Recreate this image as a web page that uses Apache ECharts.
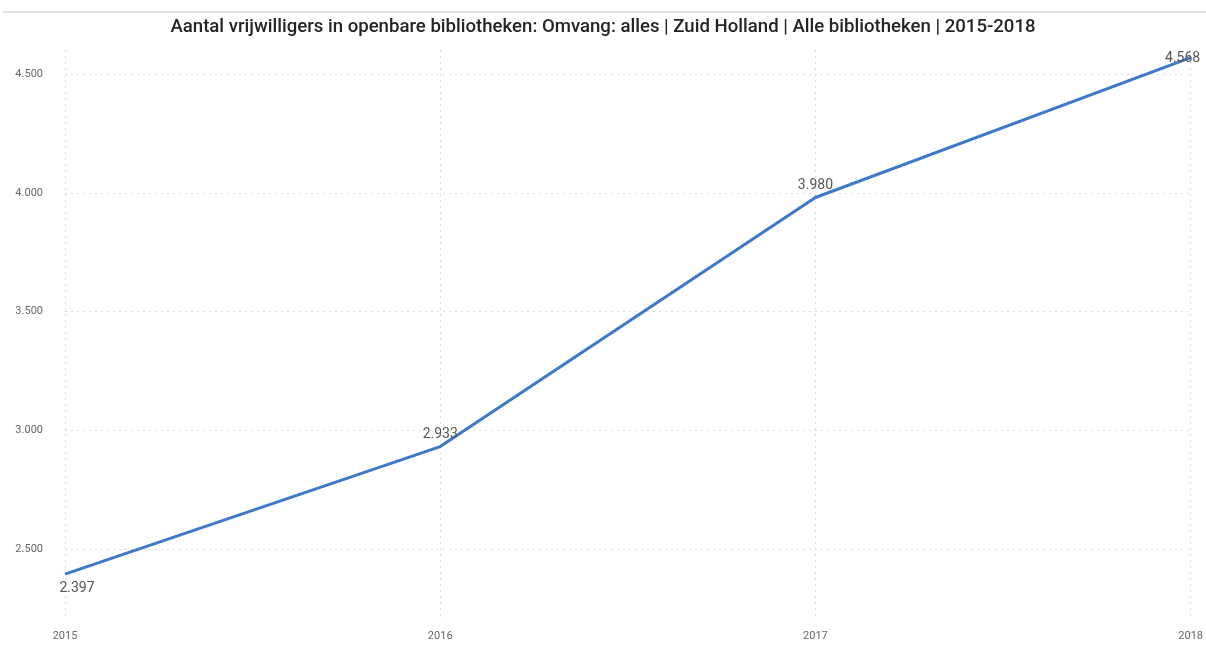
<!DOCTYPE html>
<html>
<head>
<meta charset="utf-8">
<script src="https://cdn.jsdelivr.net/npm/echarts@6/dist/echarts.min.js"></script>
<style>
  html, body { margin: 0; padding: 0; background: #fff; }
  #main { width: 1206px; height: 650px; }
</style>
</head>
<body>
<div id="main"></div>
<script>
var years = ['2015', '2016', '2017', '2018'];
var volunteers = [2397, 2933, 3980, 4568];
var yTicks = [2500, 3000, 3500, 4000, 4500];

// Dutch thousands separator
function nl(v) {
    return String(v).replace(/\B(?=(\d{3})+(?!\d))/g, '.');
}

var labelPos = [
    { position: 'bottom', offset: [12, 2] },
    { position: 'top', offset: [0, 0] },
    { position: 'top', offset: [0, 0] },
    { position: 'top', offset: [-8, 13] }
];

var myChart = echarts.init(document.getElementById('main'));

var option = {
    animation: false,
    textStyle: { fontFamily: 'Roboto' },
    title: {
        text: 'Aantal vrijwilligers in openbare bibliotheken: Omvang: alles | Zuid Holland | Alle bibliotheken | 2015-2018',
        left: 'center',
        top: 13,
        textStyle: { fontSize: 18.6, fontWeight: 500, color: '#252423', fontFamily: 'Roboto' }
    },
    graphic: [{
        type: 'rect',
        shape: { x: 3, y: 11, width: 1203, height: 2 },
        style: { fill: '#e2e2e2' }
    }],
    grid: { left: 65, right: 11, top: 50, bottom: 29 },
    xAxis: {
        type: 'category',
        boundaryGap: false,
        data: years,
        axisLine: { show: false },
        axisTick: { show: false },
        axisLabel: { color: '#666', fontSize: 11, margin: 10 },
        splitLine: { show: true, lineStyle: { type: [2, 4], color: '#dcdcdc' } }
    },
    yAxis: {
        type: 'value',
        min: 2200,
        max: 4600,
        axisLine: { show: false },
        axisTick: { show: false, customValues: yTicks },
        axisLabel: {
            customValues: yTicks,
            color: '#666',
            fontSize: 11,
            margin: 22,
            formatter: function (v) { return nl(v); }
        },
        splitLine: { show: true, lineStyle: { type: [2, 4], color: '#dcdcdc' } }
    },
    series: [{
        type: 'line',
        data: volunteers.map(function (v, i) {
            return { value: v, label: labelPos[i] };
        }),
        symbol: 'circle',
        symbolSize: 0,
        showSymbol: true,
        lineStyle: { color: '#3c79c9', width: 3 },
        itemStyle: { color: '#3c79c9' },
        label: {
            show: true,
            color: '#555',
            fontSize: 14,
            formatter: function (p) { return nl(p.value); }
        }
    }]
};

myChart.setOption(option);
</script>
</body>
</html>
